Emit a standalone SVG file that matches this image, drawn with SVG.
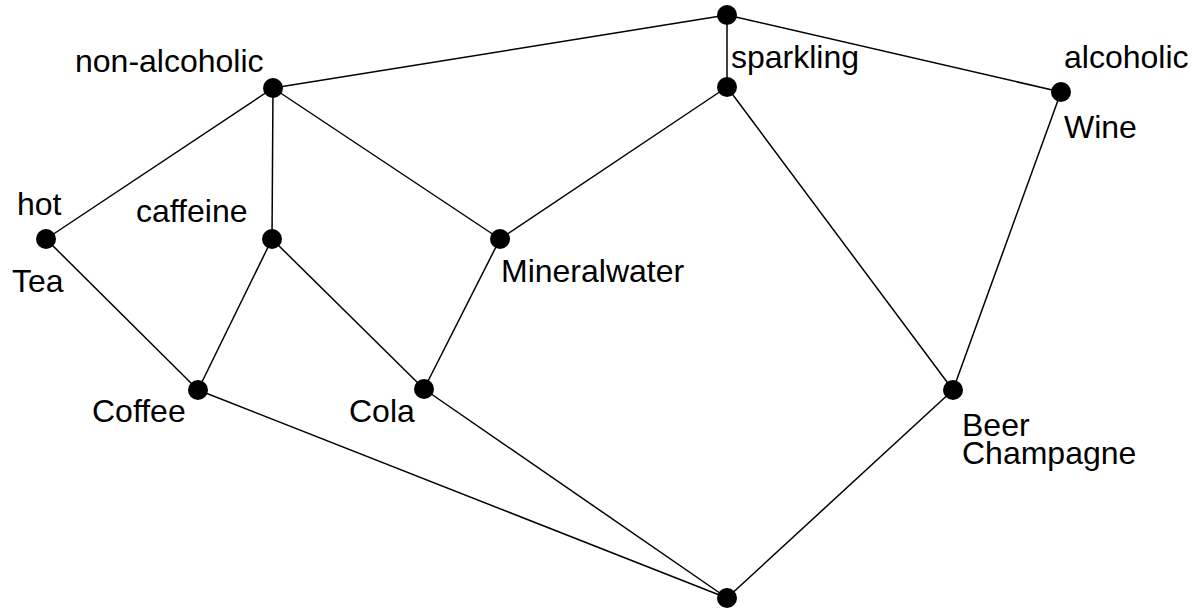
<svg xmlns="http://www.w3.org/2000/svg" width="1197" height="608" viewBox="0 0 1197 608">
<style>
.e{stroke:#000;stroke-width:1.5;fill:none}
.n{fill:#000}
text{font-family:"Liberation Sans",Arial,sans-serif;font-size:32px;fill:#000}
</style>
<rect width="1197" height="608" fill="#fff"/>
<g id="connectors">
<line class="e" x1="727" y1="15" x2="273" y2="88"/>
<line class="e" x1="727" y1="15" x2="727" y2="87"/>
<line class="e" x1="727" y1="15" x2="1061" y2="92"/>
<line class="e" x1="273" y1="88" x2="46" y2="239"/>
<line class="e" x1="273" y1="88" x2="272" y2="239"/>
<line class="e" x1="273" y1="88" x2="500" y2="239"/>
<line class="e" x1="727" y1="87" x2="500" y2="239"/>
<line class="e" x1="727" y1="87" x2="953" y2="390"/>
<line class="e" x1="1061" y1="92" x2="953" y2="390"/>
<line class="e" x1="46" y1="239" x2="198" y2="390"/>
<line class="e" x1="272" y1="239" x2="198" y2="390"/>
<line class="e" x1="272" y1="239" x2="424" y2="389"/>
<line class="e" x1="500" y1="239" x2="424" y2="389"/>
<line class="e" x1="198" y1="390" x2="727" y2="598"/>
<line class="e" x1="424" y1="389" x2="727" y2="598"/>
<line class="e" x1="953" y1="390" x2="727" y2="598"/>
</g>
<g id="top"><circle class="n" cx="727" cy="15" r="10"/></g>
<g id="non-alcoholic"><circle class="n" cx="273" cy="88" r="10"/><text x="75" y="72">non-alcoholic</text></g>
<g id="sparkling"><circle class="n" cx="727" cy="87" r="10"/><text x="731" y="68">sparkling</text></g>
<g id="alcoholic"><circle class="n" cx="1061" cy="92" r="10"/><text x="1064" y="68">alcoholic</text><text x="1064" y="138">Wine</text></g>
<g id="hot"><circle class="n" cx="46" cy="239" r="10"/><text x="17" y="215">hot</text><text x="12" y="292">Tea</text></g>
<g id="caffeine"><circle class="n" cx="272" cy="239" r="10"/><text x="136" y="222">caffeine</text></g>
<g id="mineralwater"><circle class="n" cx="500" cy="239" r="10"/><text x="501" y="282">Mineralwater</text></g>
<g id="coffee"><circle class="n" cx="198" cy="390" r="10"/><text x="92" y="422">Coffee</text></g>
<g id="cola"><circle class="n" cx="424" cy="389" r="10"/><text x="349" y="422">Cola</text></g>
<g id="beer"><circle class="n" cx="953" cy="390" r="10"/><text x="962" y="436">Beer</text><text x="962" y="464">Champagne</text></g>
<g id="bottom"><circle class="n" cx="727" cy="598" r="10"/></g>
</svg>
